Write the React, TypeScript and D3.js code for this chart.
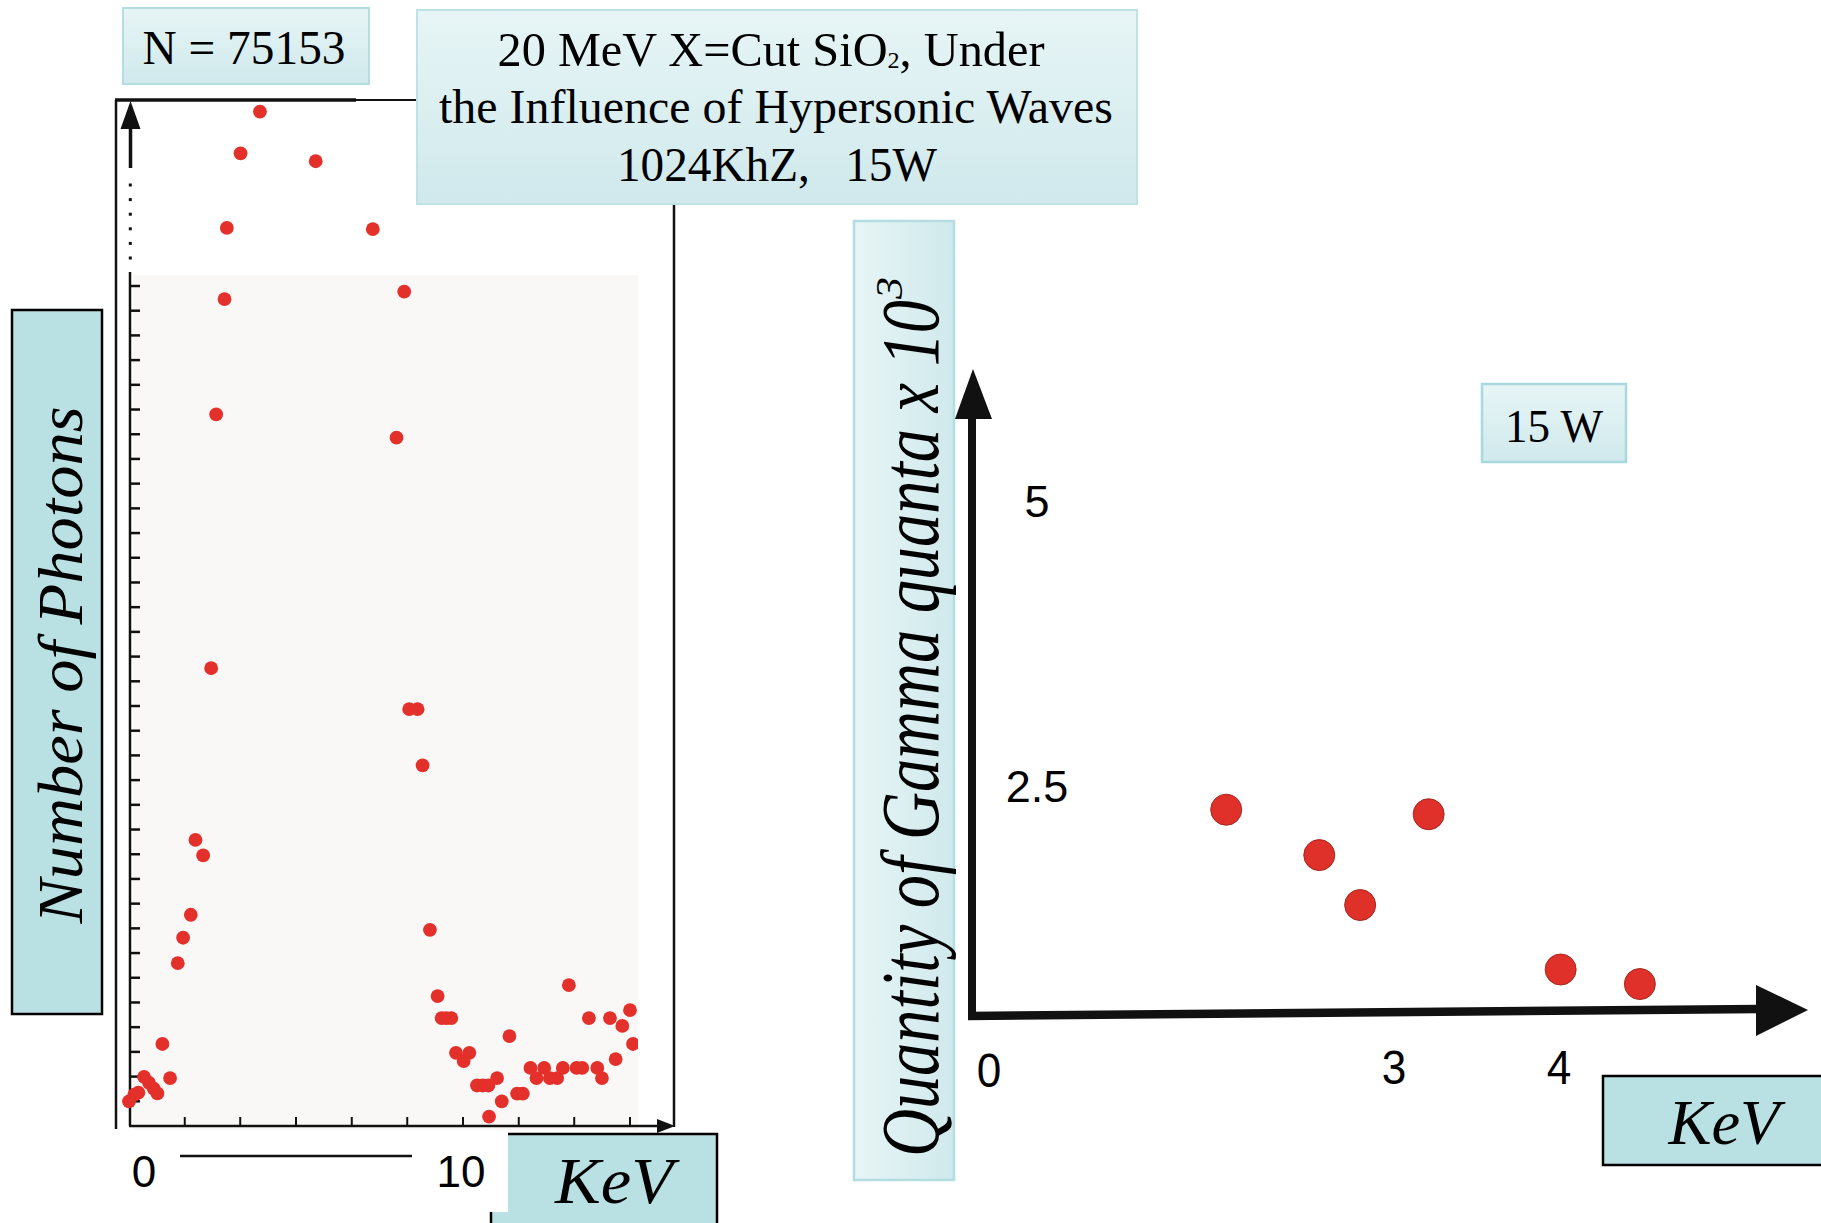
import React from "react";
import * as d3 from "d3";

// ---------- Left panel: photon spectrum (energy in KeV, photons in arbitrary tick units) ----------
const spectrumKeV = [
  0.0, 0.16, 0.28, 0.45, 0.6, 0.74, 0.85, 1.0, 1.23, 1.46, 1.62, 1.85, 1.99, 2.22, 2.46, 2.61,
  2.86, 2.93, 3.34, 3.92, 5.59, 7.3, 8.01, 8.24, 8.39, 8.64, 8.79, 9.01, 9.24, 9.36, 9.5, 9.65,
  9.79, 10.02, 10.19, 10.42, 10.59, 10.76, 10.78, 11.02, 11.16, 11.39, 11.62, 11.79, 12.02, 12.2,
  12.43, 12.6, 12.82, 12.99, 13.17, 13.4, 13.57, 13.77, 14.02, 14.16, 14.4, 14.57, 14.77, 15.0, 15.09,
];
const spectrumPhotons = [
  1.0, 1.27, 1.35, 1.99, 1.75, 1.51, 1.32, 3.32, 1.94, 6.59, 7.62, 8.55, 11.58, 10.95, 18.53, 28.8,
  33.47, 36.35, 39.37, 41.06, 39.05, 36.3, 27.86, 33.77, 16.87, 16.87, 14.6, 7.94, 5.26, 4.37, 4.37, 4.37,
  2.96, 2.63, 2.96, 1.64, 1.64, 1.64, 0.38, 1.94, 1.0, 3.64, 1.31, 1.31, 2.35, 1.94,
  2.35, 1.94, 1.94, 2.35, 5.7, 2.35, 2.35, 4.37, 2.35, 1.94, 4.37, 2.71, 4.05, 4.69, 3.32,
];
const spectrumXTicks = [1.67, 3.33, 5, 6.67, 8.33, 10, 11.67, 13.33, 15];
const spectrumYTicks = [
  1, 2, 3, 4, 5, 6, 7, 8, 9, 10, 11, 12, 13, 14, 15, 16, 17,
  18, 19, 20, 21, 22, 23, 24, 25, 26, 27, 28, 29, 30, 31, 32, 33, 34,
];
const spectrumXLabels = ["0", "10"];

// ---------- Right panel: gamma quanta ----------
const gammaKeV = [1.81, 2.47, 2.76, 3.21, 4.01, 4.49];
const gammaQuanta = [2.25, 1.75, 1.2, 2.2, 0.49, 0.33];
const gammaYLabels = [2.5, 5];
const gammaXLabels = [3, 4];

const titleLine2 = "the Influence of Hypersonic Waves";
const titleLine3 = "1024KhZ,   15W";
const countLabel = "N = 75153";
const powerLabel = "15 W";

const SERIF = "'Liberation Serif', 'Times New Roman', serif";
const SANS = "'Liberation Sans', Arial, sans-serif";

export default function App() {
  const W = 1821;
  const H = 1223;

  const xL = d3.scaleLinear().domain([0, 10]).range([129, 463]);
  const yL = d3.scaleLinear().domain([0, 34]).range([1126, 286]);

  const xR = d3.scaleLinear().domain([0, 3, 4, 5]).range([971, 1394, 1559, 1724]);
  const yR = d3.scaleLinear().domain([0, 2.5, 5]).range([1014, 787, 502]);

  const dotMarks = d3.range(185, 262, 14.6);

  const red = "#e4302a";
  const darkTeal = "#b9e0e3";

  return (
    <svg
      width={W}
      height={H}
      viewBox={`0 0 ${W} ${H}`}
      style={{ position: "absolute", left: 0, top: 0, display: "block", background: "#fff" }}
    >
      <defs>
        <linearGradient id="lightBox" x1="0" y1="0" x2="0" y2="1">
          <stop offset="0" stopColor="#e7f5f6" />
          <stop offset="1" stopColor="#d0e9ec" />
        </linearGradient>
        <linearGradient id="lightBoxH" x1="0" y1="0" x2="1" y2="0">
          <stop offset="0" stopColor="#e7f5f6" />
          <stop offset="1" stopColor="#d0e9ec" />
        </linearGradient>
        <clipPath id="leftPlotClip">
          <rect x={100} y={90} width={538} height={1060} />
        </clipPath>
      </defs>

      <rect x={0} y={0} width={W} height={H} fill="#ffffff" />

      {/* ===================== LEFT PANEL ===================== */}
      <rect x={133} y={275} width={505} height={855} fill="#faf8f7" />

      {/* frame */}
      <line x1={116} y1={100} x2={116} y2={1129} stroke="#111" strokeWidth={2.5} />
      <line x1={115} y1={100} x2={356} y2={100} stroke="#111" strokeWidth={3.5} />
      <line x1={356} y1={100} x2={418} y2={100} stroke="#111" strokeWidth={2} />
      <line x1={674} y1={204} x2={674} y2={1127} stroke="#111" strokeWidth={2.5} />

      {/* y axis with arrow, dotted break and ticked part */}
      <polygon points={`${xL(0) + 1.5},101 ${xL(0) - 8.5},129 ${xL(0) + 11.5},129`} fill="#111" />
      <line x1={xL(0) + 1.5} y1={126} x2={xL(0) + 1.5} y2={168} stroke="#111" strokeWidth={3.5} />
      {dotMarks.map((y, i) => (
        <rect key={i} x={xL(0) - 0.2} y={y - 1.5} width={3} height={3} fill="#111" />
      ))}
      <line x1={xL(0) + 1} y1={272} x2={xL(0) + 1} y2={yL(0)} stroke="#111" strokeWidth={2.5} />
      {spectrumYTicks.map((t) => (
        <line key={t} x1={xL(0) + 1} y1={yL(t)} x2={xL(0) + 11} y2={yL(t)} stroke="#111" strokeWidth={2.5} />
      ))}

      {/* x axis */}
      <line x1={xL(0)} y1={yL(0)} x2={662} y2={yL(0)} stroke="#111" strokeWidth={2.5} />
      <polygon points={`675,${yL(0)} 657,${yL(0) - 7} 657,${yL(0) + 7}`} fill="#111" />
      {spectrumXTicks.map((t) => (
        <line key={t} x1={xL(t)} y1={yL(0)} x2={xL(t)} y2={yL(0) - 9} stroke="#111" strokeWidth={2} />
      ))}

      {/* data */}
      <g clipPath="url(#leftPlotClip)">
        {spectrumKeV.map((k, i) => (
          <circle key={i} cx={xL(k)} cy={yL(spectrumPhotons[i])} r={6.9} fill={red} />
        ))}
      </g>

      {/* x labels */}
      <text x={xL(0) + 15} y={1187} fontFamily={SANS} fontSize={44} textAnchor="middle" fill="#000">
        {spectrumXLabels[0]}
      </text>
      <line x1={180} y1={1156} x2={412} y2={1156} stroke="#111" strokeWidth={2.5} />
      <text x={xL(10) - 2} y={1187} fontFamily={SANS} fontSize={44} textAnchor="middle" fill="#000">
        {spectrumXLabels[1]}
      </text>

      {/* KeV box (left) */}
      <rect x={491} y={1134} width={226} height={110} fill={darkTeal} stroke="#000" strokeWidth={2.5} />
      <rect x={486} y={1130} width={22} height={82} fill="#ffffff" />
      <text
        x={614}
        y={1203}
        fontFamily={SERIF}
        fontStyle="italic"
        fontSize={66}
        textAnchor="middle"
        textLength={118}
        lengthAdjust="spacingAndGlyphs"
        fill="#000"
      >
        KeV
      </text>

      {/* Number of Photons box */}
      <rect x={12} y={310} width={90} height={704} fill={darkTeal} stroke="#000" strokeWidth={2.5} />
      <text
        transform="translate(82,665) rotate(-90)"
        fontFamily={SERIF}
        fontStyle="italic"
        fontSize={64}
        textAnchor="middle"
        textLength={517}
        lengthAdjust="spacingAndGlyphs"
        fill="#000"
      >
        Number of Photons
      </text>

      {/* N box */}
      <rect x={123} y={8} width={246} height={76} fill="url(#lightBox)" stroke="#b3dde1" strokeWidth={2} />
      <text
        x={244}
        y={64}
        fontFamily={SERIF}
        fontSize={48}
        textAnchor="middle"
        textLength={203}
        lengthAdjust="spacingAndGlyphs"
        fill="#000"
      >
        {countLabel}
      </text>

      {/* Title box */}
      <rect x={417} y={10} width={720} height={194} fill="url(#lightBox)" stroke="#bfe2e5" strokeWidth={2} />
      <text
        x={771}
        y={66}
        fontFamily={SERIF}
        fontSize={48}
        textAnchor="middle"
        textLength={547}
        lengthAdjust="spacingAndGlyphs"
        fill="#000"
      >
        20 MeV X=Cut SiO<tspan fontSize={24} dy={2}>2</tspan>
        <tspan dy={-2}>, Under</tspan>
      </text>
      <text
        x={776}
        y={123}
        fontFamily={SERIF}
        fontSize={48}
        textAnchor="middle"
        textLength={674}
        lengthAdjust="spacingAndGlyphs"
        fill="#000"
      >
        {titleLine2}
      </text>
      <text
        x={777}
        y={181}
        fontFamily={SERIF}
        fontSize={48}
        textAnchor="middle"
        textLength={320}
        lengthAdjust="spacingAndGlyphs"
        style={{ whiteSpace: "pre" }}
        fill="#000"
      >
        {titleLine3}
      </text>

      {/* ===================== RIGHT PANEL ===================== */}
      <rect x={854} y={221} width={100} height={959} fill="url(#lightBoxH)" stroke="#b3dde1" strokeWidth={2.5} />
      <text
        transform="translate(938,1157) rotate(-90)"
        fontFamily={SERIF}
        fontStyle="italic"
        fontSize={82}
        textAnchor="start"
        textLength={857}
        lengthAdjust="spacingAndGlyphs"
        fill="#000"
      >
        Quantity of Gamma quanta x 10
      </text>
      <text
        transform="translate(902,1157) rotate(-90)"
        x={858}
        fontFamily={SERIF}
        fontStyle="italic"
        fontSize={38}
        textAnchor="start"
        textLength={22}
        lengthAdjust="spacingAndGlyphs"
        fill="#000"
      >
        3
      </text>

      {/* axes */}
      <line x1={xR(0) + 1} y1={1019} x2={xR(0) + 1} y2={410} stroke="#111" strokeWidth={8} />
      <polygon points={`${xR(0) + 2},369 ${xR(0) - 16},419 ${xR(0) + 21},419`} fill="#111" />
      <line x1={xR(0) - 3} y1={1016} x2={1760} y2={1009} stroke="#111" strokeWidth={8.5} />
      <polygon points={`1808,1010 1756,985 1756,1036`} fill="#111" />

      {/* tick labels */}
      {gammaYLabels.map((v) => (
        <text
          key={v}
          x={xR(0) + 66}
          y={yR(v) + 15}
          fontFamily={SANS}
          fontSize={45}
          textAnchor="middle"
          fill="#000"
        >
          {v}
        </text>
      ))}
      <text
        transform={`translate(${xR(0) + 18},1087) scale(0.92,1)`}
        fontFamily={SANS}
        fontSize={48}
        textAnchor="middle"
        fill="#000"
      >
        0
      </text>
      {gammaXLabels.map((v) => (
        <text
          key={v}
          transform={`translate(${xR(v)},1084) scale(0.92,1)`}
          fontFamily={SANS}
          fontSize={48}
          textAnchor="middle"
          fill="#000"
        >
          {v}
        </text>
      ))}

      {/* data */}
      {gammaKeV.map((k, i) => (
        <circle
          key={i}
          cx={xR(k)}
          cy={yR(gammaQuanta[i])}
          r={15.5}
          fill="#e0302a"
          stroke="#a5281f"
          strokeWidth={1}
        />
      ))}

      {/* 15 W box */}
      <rect x={1482} y={384} width={144} height={78} fill="url(#lightBox)" stroke="#a9d9dd" strokeWidth={2.5} />
      <text
        x={1554}
        y={442}
        fontFamily={SERIF}
        fontSize={47}
        textAnchor="middle"
        textLength={98}
        lengthAdjust="spacingAndGlyphs"
        fill="#000"
      >
        {powerLabel}
      </text>

      {/* KeV box (right) */}
      <rect x={1603} y={1076} width={240} height={89} fill={darkTeal} stroke="#000" strokeWidth={2.5} />
      <text
        x={1724}
        y={1144}
        fontFamily={SERIF}
        fontStyle="italic"
        fontSize={64}
        textAnchor="middle"
        textLength={111}
        lengthAdjust="spacingAndGlyphs"
        fill="#000"
      >
        KeV
      </text>
    </svg>
  );
}
